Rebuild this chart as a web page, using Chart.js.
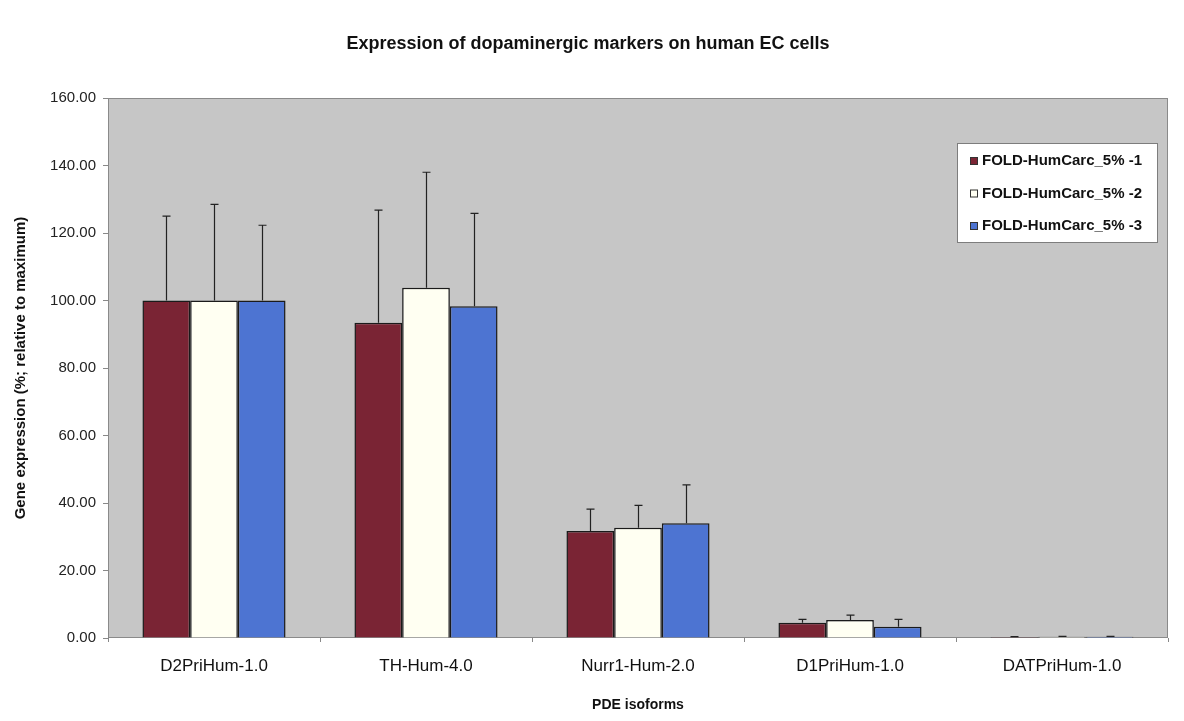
<!DOCTYPE html>
<html>
<head>
<meta charset="utf-8">
<script src="https://cdn.jsdelivr.net/npm/chart.js@4"></script>
<style>
  html, body { margin: 0; padding: 0; background: #fff; }
  #wrap { width: 1184px; height: 721px; }
</style>
</head>
<body>
<div id="wrap"><canvas id="myChart" width="1184" height="721"></canvas></div>
<script>
// categories and values
const categories = ['D2PriHum-1.0', 'TH-Hum-4.0', 'Nurr1-Hum-2.0', 'D1PriHum-1.0', 'DATPriHum-1.0'];
const seriesNames = ['FOLD-HumCarc_5% -1', 'FOLD-HumCarc_5% -2', 'FOLD-HumCarc_5% -3'];
const fold1 = [100, 93.4, 31.7, 4.5, 0.3];
const fold2 = [100, 103.8, 32.7, 5.3, 0.4];
const fold3 = [100, 98.3, 34.0, 3.3, 0.4];
// upper error (SD) for each bar
const err1 = [25.0, 33.4, 6.5, 1.0, 0.1];
const err2 = [28.5, 34.2, 6.6, 1.5, 0.1];
const err3 = [22.3, 27.5, 11.4, 2.2, 0.1];
const yTicks = [0, 20, 40, 60, 80, 100, 120, 140, 160];

const colors = ['#7a2434', '#fffff2', '#4d74d2'];
const fontFamily = '"Liberation Sans", Arial, sans-serif';

const ctx = document.getElementById('myChart').getContext('2d');

// grey plot area background
const plotBg = {
    id: 'plotBg',
    beforeDraw(chart) {
        const a = chart.chartArea;
        const c = chart.ctx;
        c.save();
        c.fillStyle = '#c6c6c6';
        c.fillRect(a.left, a.top, a.right - a.left, a.bottom - a.top);
        c.strokeStyle = '#8a8a8a';
        c.lineWidth = 1;
        c.strokeRect(a.left + 0.5, a.top + 0.5, a.right - a.left - 1, a.bottom - a.top - 1);
        c.restore();
    }
};

// upward error bars with a small cap
const errorBars = {
    id: 'errorBars',
    afterDatasetsDraw(chart) {
        const c = chart.ctx;
        const y = chart.scales.y;
        c.save();
        c.strokeStyle = '#222';
        c.lineWidth = 1.2;
        chart.data.datasets.forEach((ds, i) => {
            const meta = chart.getDatasetMeta(i);
            meta.data.forEach((bar, j) => {
                const top = y.getPixelForValue(ds.data[j] + ds.err[j]);
                const x = Math.round(bar.x) + 0.5;
                c.beginPath();
                c.moveTo(x, bar.y);
                c.lineTo(x, top);
                c.moveTo(x - 4, top);
                c.lineTo(x + 4, top);
                c.stroke();
            });
        });
        c.restore();
    }
};

// legend box inside the plot area, top right
const boxLegend = {
    id: 'boxLegend',
    afterDraw(chart) {
        const c = chart.ctx;
        const a = chart.chartArea;
        const x0 = a.right - 211, y0 = 143, w = 200, h = 99;
        c.save();
        c.fillStyle = '#ffffff';
        c.fillRect(x0, y0, w, h);
        c.strokeStyle = '#7d7d7d';
        c.lineWidth = 1;
        c.strokeRect(x0 + 0.5, y0 + 0.5, w, h);
        c.font = 'bold 15px ' + fontFamily;
        c.textBaseline = 'middle';
        chart.data.datasets.forEach((ds, i) => {
            const cy = 161 + i * 32.5;
            c.fillStyle = ds.backgroundColor;
            c.fillRect(x0 + 13, cy - 4, 8, 8);
            c.strokeStyle = '#333';
            c.strokeRect(x0 + 13.5, cy - 3.5, 7, 7);
            c.fillStyle = '#111';
            c.fillText(ds.label, x0 + 25, cy);
        });
        c.restore();
    }
};

const chart = new Chart(ctx, {
    type: 'bar',
    data: {
        labels: categories,
        datasets: [
            { label: seriesNames[0], data: fold1, err: err1, backgroundColor: colors[0] },
            { label: seriesNames[1], data: fold2, err: err2, backgroundColor: colors[1] },
            { label: seriesNames[2], data: fold3, err: err3, backgroundColor: colors[2] }
        ].map(d => Object.assign(d, {
            borderColor: '#1a1a1a',
            borderWidth: 1.5,
            borderSkipped: 'bottom',
            categoryPercentage: 0.675,
            barPercentage: 1.0
        }))
    },
    options: {
        responsive: false,
        animation: false,
        layout: { padding: { left: 8, right: 16, top: 0, bottom: 0 } },
        plugins: {
            legend: { display: false },
            tooltip: { enabled: false },
            title: {
                display: true,
                text: 'Expression of dopaminergic markers on human EC cells',
                color: '#111',
                font: { family: fontFamily, size: 18, weight: 'bold', lineHeight: 1.2 },
                padding: { top: 33, bottom: 43.4 }
            }
        },
        scales: {
            x: {
                grid: { display: true, drawOnChartArea: false, drawTicks: true, tickLength: 4, color: '#888' },
                border: { display: false },
                ticks: {
                    color: '#111',
                    padding: 14,
                    font: { family: fontFamily, size: 17 }
                },
                title: {
                    display: true,
                    text: 'PDE isoforms',
                    color: '#111',
                    font: { family: fontFamily, size: 14, weight: 'bold' },
                    padding: { top: 0, bottom: 7 }
                },
                afterFit(s) { s.height = 83; }
            },
            y: {
                min: 0,
                max: 160,
                afterBuildTicks(s) { s.ticks = yTicks.map(v => ({ value: v })); },
                grid: { display: true, drawOnChartArea: false, drawTicks: true, tickLength: 5, color: '#888' },
                border: { display: false },
                ticks: {
                    color: '#222',
                    padding: 7,
                    font: { family: fontFamily, size: 15 },
                    callback: v => Number(v).toFixed(2)
                },
                title: {
                    display: true,
                    text: 'Gene expression (%; relative to maximum)',
                    color: '#111',
                    font: { family: fontFamily, size: 15, weight: 'bold' },
                    padding: { top: 4, bottom: 0 }
                },
                afterFit(s) { s.width = 100; }
            }
        }
    },
    plugins: [plotBg, errorBars, boxLegend]
});
</script>
</body>
</html>
